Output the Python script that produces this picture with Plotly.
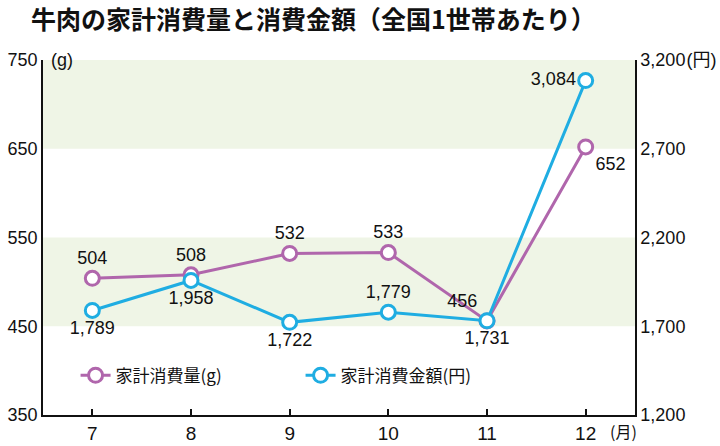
import plotly.graph_objects as go

months = ["7", "8", "9", "10", "11", "12"]
amount_g = [504, 508, 532, 533, 456, 652]
spend_yen = [1789, 1958, 1722, 1779, 1731, 3084]
left_ticks = [350, 450, 550, 650, 750]
right_ticks = [1200, 1700, 2200, 2700, 3200]
right_ticktext = ["1,200", "1,700", "2,200", "2,700", "3,200<span style='font-size:4px'> </span>(円)"]

purple = "#B066AC"
blue = "#1FADE2"
band = "#EFF5E6"
num_font = "Liberation Sans, Noto Sans CJK JP"
jp_font = "Noto Sans CJK JP"

xi = list(range(len(months)))

fig = go.Figure()
fig.add_trace(go.Scatter(
    x=xi, y=spend_yen, name="家計消費金額(円)", mode="lines+markers+text",
    line=dict(color=blue, width=3),
    marker=dict(symbol="circle", size=14, color="white", line=dict(color=blue, width=3)),
    text=[f"{v:,}" for v in spend_yen],
    textposition=["bottom center", "bottom center", "bottom center", "top center", "bottom center", "middle left"],
    textfont=dict(family=num_font, size=18, color="#111"),
    yaxis="y2", cliponaxis=False,
))
fig.add_trace(go.Scatter(
    x=xi, y=amount_g, name="家計消費量(g)", mode="lines+markers+text",
    line=dict(color=purple, width=3),
    marker=dict(symbol="circle", size=14, color="white", line=dict(color=purple, width=3)),
    text=[f"{v:,}" for v in amount_g],
    textposition=["top center", "top center", "top center", "top center", "top left", "bottom right"],
    textfont=dict(family=num_font, size=18, color="#111"),
    yaxis="y", cliponaxis=False,
))

shapes = []
for lo, hi in [(450, 550), (650, 750)]:
    shapes.append(dict(type="rect", xref="paper", yref="y", x0=0, x1=1, y0=lo, y1=hi,
                       fillcolor=band, line=dict(width=0), layer="below"))

axis_font = dict(family=num_font, size=18, color="#111")

fig.update_layout(
    width=720, height=446,
    margin=dict(l=43, r=85, t=60, b=31, autoexpand=False),
    paper_bgcolor="white", plot_bgcolor="white",
    showlegend=True,
    legend=dict(orientation="h", x=0.055, y=0.06, xanchor="left", yanchor="bottom",
                font=dict(family=jp_font, size=17, color="#111"),
                bgcolor="rgba(0,0,0,0)", entrywidth=180, traceorder="reversed"),
    shapes=shapes,
    xaxis=dict(range=[-0.5, 5.5], tickvals=xi, ticktext=months, showgrid=False, zeroline=False,
               showline=True, linecolor="#111", linewidth=1.5, ticks="inside", ticklen=6,
               tickcolor="#111", tickwidth=1.5, automargin=False,
               tickfont=dict(family=num_font, size=19, color="#111")),
    yaxis=dict(range=[350, 750], tickvals=left_ticks, showgrid=False, zeroline=False,
               showline=True, linecolor="#111", linewidth=1.5, ticks="", automargin=False,
               tickfont=axis_font),
    yaxis2=dict(range=[1200, 3200], tickvals=right_ticks, ticktext=right_ticktext,
                overlaying="y", side="right", showgrid=False, zeroline=False,
                showline=True, linecolor="#111", linewidth=1.5, ticks="", automargin=False,
                tickfont=axis_font),
    annotations=[
        dict(text="<b>牛肉の家計消費量と消費金額（全国1世帯あたり）</b>", xref="paper", yref="paper",
             x=-0.024, y=1.0, xanchor="left", yanchor="bottom", yshift=22, showarrow=False,
             font=dict(family=jp_font, size=25, color="#111")),
        dict(text="(g)", xref="paper", yref="paper", x=0.01, y=1.0, xanchor="left", yanchor="middle",
             showarrow=False, font=dict(family=num_font, size=18, color="#111")),
        dict(text="(月)", xref="paper", yref="paper", x=0.955, y=-0.005, xanchor="left", yanchor="top",
             showarrow=False, font=dict(family=jp_font, size=16, color="#111")),
    ],
)

fig.write_html("out.html", config={"displayModeBar": False},
               post_script="document.body.style.margin='0';")
